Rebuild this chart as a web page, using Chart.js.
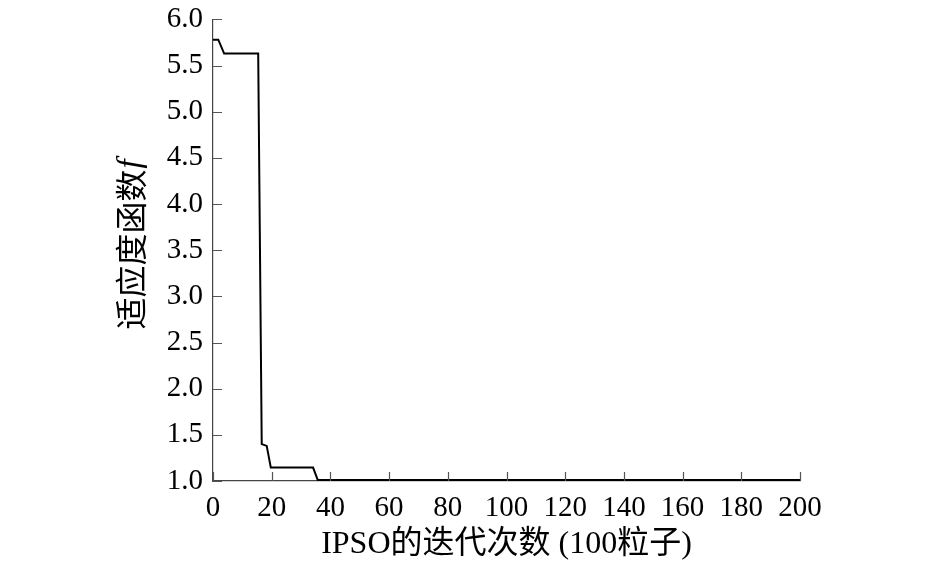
<!DOCTYPE html>
<html>
<head>
<meta charset="utf-8">
<script src="https://cdn.jsdelivr.net/npm/chart.js@4/dist/chart.umd.min.js"></script>
<style>
  html, body { margin: 0; padding: 0; background: #fff; }
  canvas { display: block; }
</style>
</head>
<body>
<canvas id="grafico" width="945" height="564"></canvas>
<script>
// datos (esquinas de la curva escalonada)
const iteraciones = [0, 1.8, 3.8, 15.4, 16.6, 18.3, 19.7, 34.1, 35.7, 200];
const fitness = [5.78, 5.78, 5.63, 5.63, 1.40, 1.38, 1.145, 1.145, 1.01, 1.01];
const ticksX = [0, 20, 40, 60, 80, 100, 120, 140, 160, 180, 200];
const ticksY = [1.0, 1.5, 2.0, 2.5, 3.0, 3.5, 4.0, 4.5, 5.0, 5.5, 6.0];
const tituloX = 'IPSO的迭代次数 (100粒子)';
const tituloY = '适应度函数';
const tituloYVar = 'f';

const serif = "'Liberation Serif', 'Times New Roman', 'Noto Sans CJK SC', serif";

const puntos = iteraciones.map((x, i) => ({ x: x, y: fitness[i] }));

// marcas de los ejes hacia dentro + titulo del eje y con la f en cursiva
const marcasDentro = {
  id: 'marcasDentro',
  afterDraw(chart) {
    const ctx = chart.ctx;
    const sx = chart.scales.x;
    const sy = chart.scales.y;
    const area = chart.chartArea;
    const largo = 9;
    ctx.save();
    ctx.strokeStyle = '#555';
    ctx.lineWidth = 1.2;
    ctx.beginPath();
    ticksX.forEach(v => {
      const px = Math.round(sx.getPixelForValue(v)) + 0.5;
      ctx.moveTo(px, area.bottom);
      ctx.lineTo(px, area.bottom - largo);
    });
    ticksY.forEach(v => {
      const py = Math.round(sy.getPixelForValue(v)) + 0.5;
      ctx.moveTo(area.left, py);
      ctx.lineTo(area.left + largo, py);
    });
    ctx.stroke();

    // titulo eje y
    ctx.translate(131, 245);
    ctx.rotate(-Math.PI / 2);
    ctx.fillStyle = '#000';
    ctx.textBaseline = 'middle';
    ctx.textAlign = 'left';
    const fuenteCJK = "32px 'Noto Sans CJK SC', sans-serif";
    const fuenteVar = "italic 33px 'Liberation Serif', serif";
    ctx.font = fuenteCJK;
    const w1 = ctx.measureText(tituloY).width;
    ctx.font = fuenteVar;
    const w2 = ctx.measureText(tituloYVar).width;
    const x0 = -(w1 + w2) / 2;
    ctx.font = fuenteCJK;
    ctx.fillText(tituloY, x0, 0);
    ctx.font = fuenteVar;
    ctx.fillText(tituloYVar, x0 + w1 + 1, 0);
    ctx.restore();
  }
};

const config = {
  type: 'line',
  data: {
    datasets: [{
      data: puntos,
      borderColor: '#000',
      borderWidth: 2,
      pointRadius: 0,
      tension: 0,
      fill: false
    }]
  },
  options: {
    responsive: false,
    animation: false,
    devicePixelRatio: 1,
    layout: { padding: { left: 0, right: 145, top: 11, bottom: 0 } },
    plugins: {
      legend: { display: false },
      tooltip: { enabled: false }
    },
    scales: {
      x: {
        type: 'linear',
        min: 0,
        max: 200,
        afterFit(scale) { scale.height = 83; },
        afterBuildTicks(scale) { scale.ticks = ticksX.map(v => ({ value: v })); },
        grid: { display: false },
        border: { display: true, color: '#444', width: 1.2 },
        ticks: {
          color: '#000',
          padding: 2,
          maxRotation: 0,
          autoSkip: false,
          font: { family: serif, size: 29 }
        },
        title: {
          display: true,
          text: tituloX,
          color: '#000',
          padding: { top: 0, bottom: 2 },
          font: { family: serif, size: 32, lineHeight: 1.1 }
        }
      },
      y: {
        min: 1,
        max: 6,
        afterFit(scale) { scale.width = 213; },
        afterBuildTicks(scale) { scale.ticks = ticksY.map(v => ({ value: v })); },
        grid: { display: false },
        border: { display: true, color: '#444', width: 1.2 },
        ticks: {
          color: '#000',
          padding: 2,
          autoSkip: false,
          font: { family: serif, size: 29 },
          callback: v => Number(v).toFixed(1)
        }
      }
    }
  },
  plugins: [marcasDentro]
};

const miGrafico = new Chart(document.getElementById('grafico'), config);
</script>
</body>
</html>
